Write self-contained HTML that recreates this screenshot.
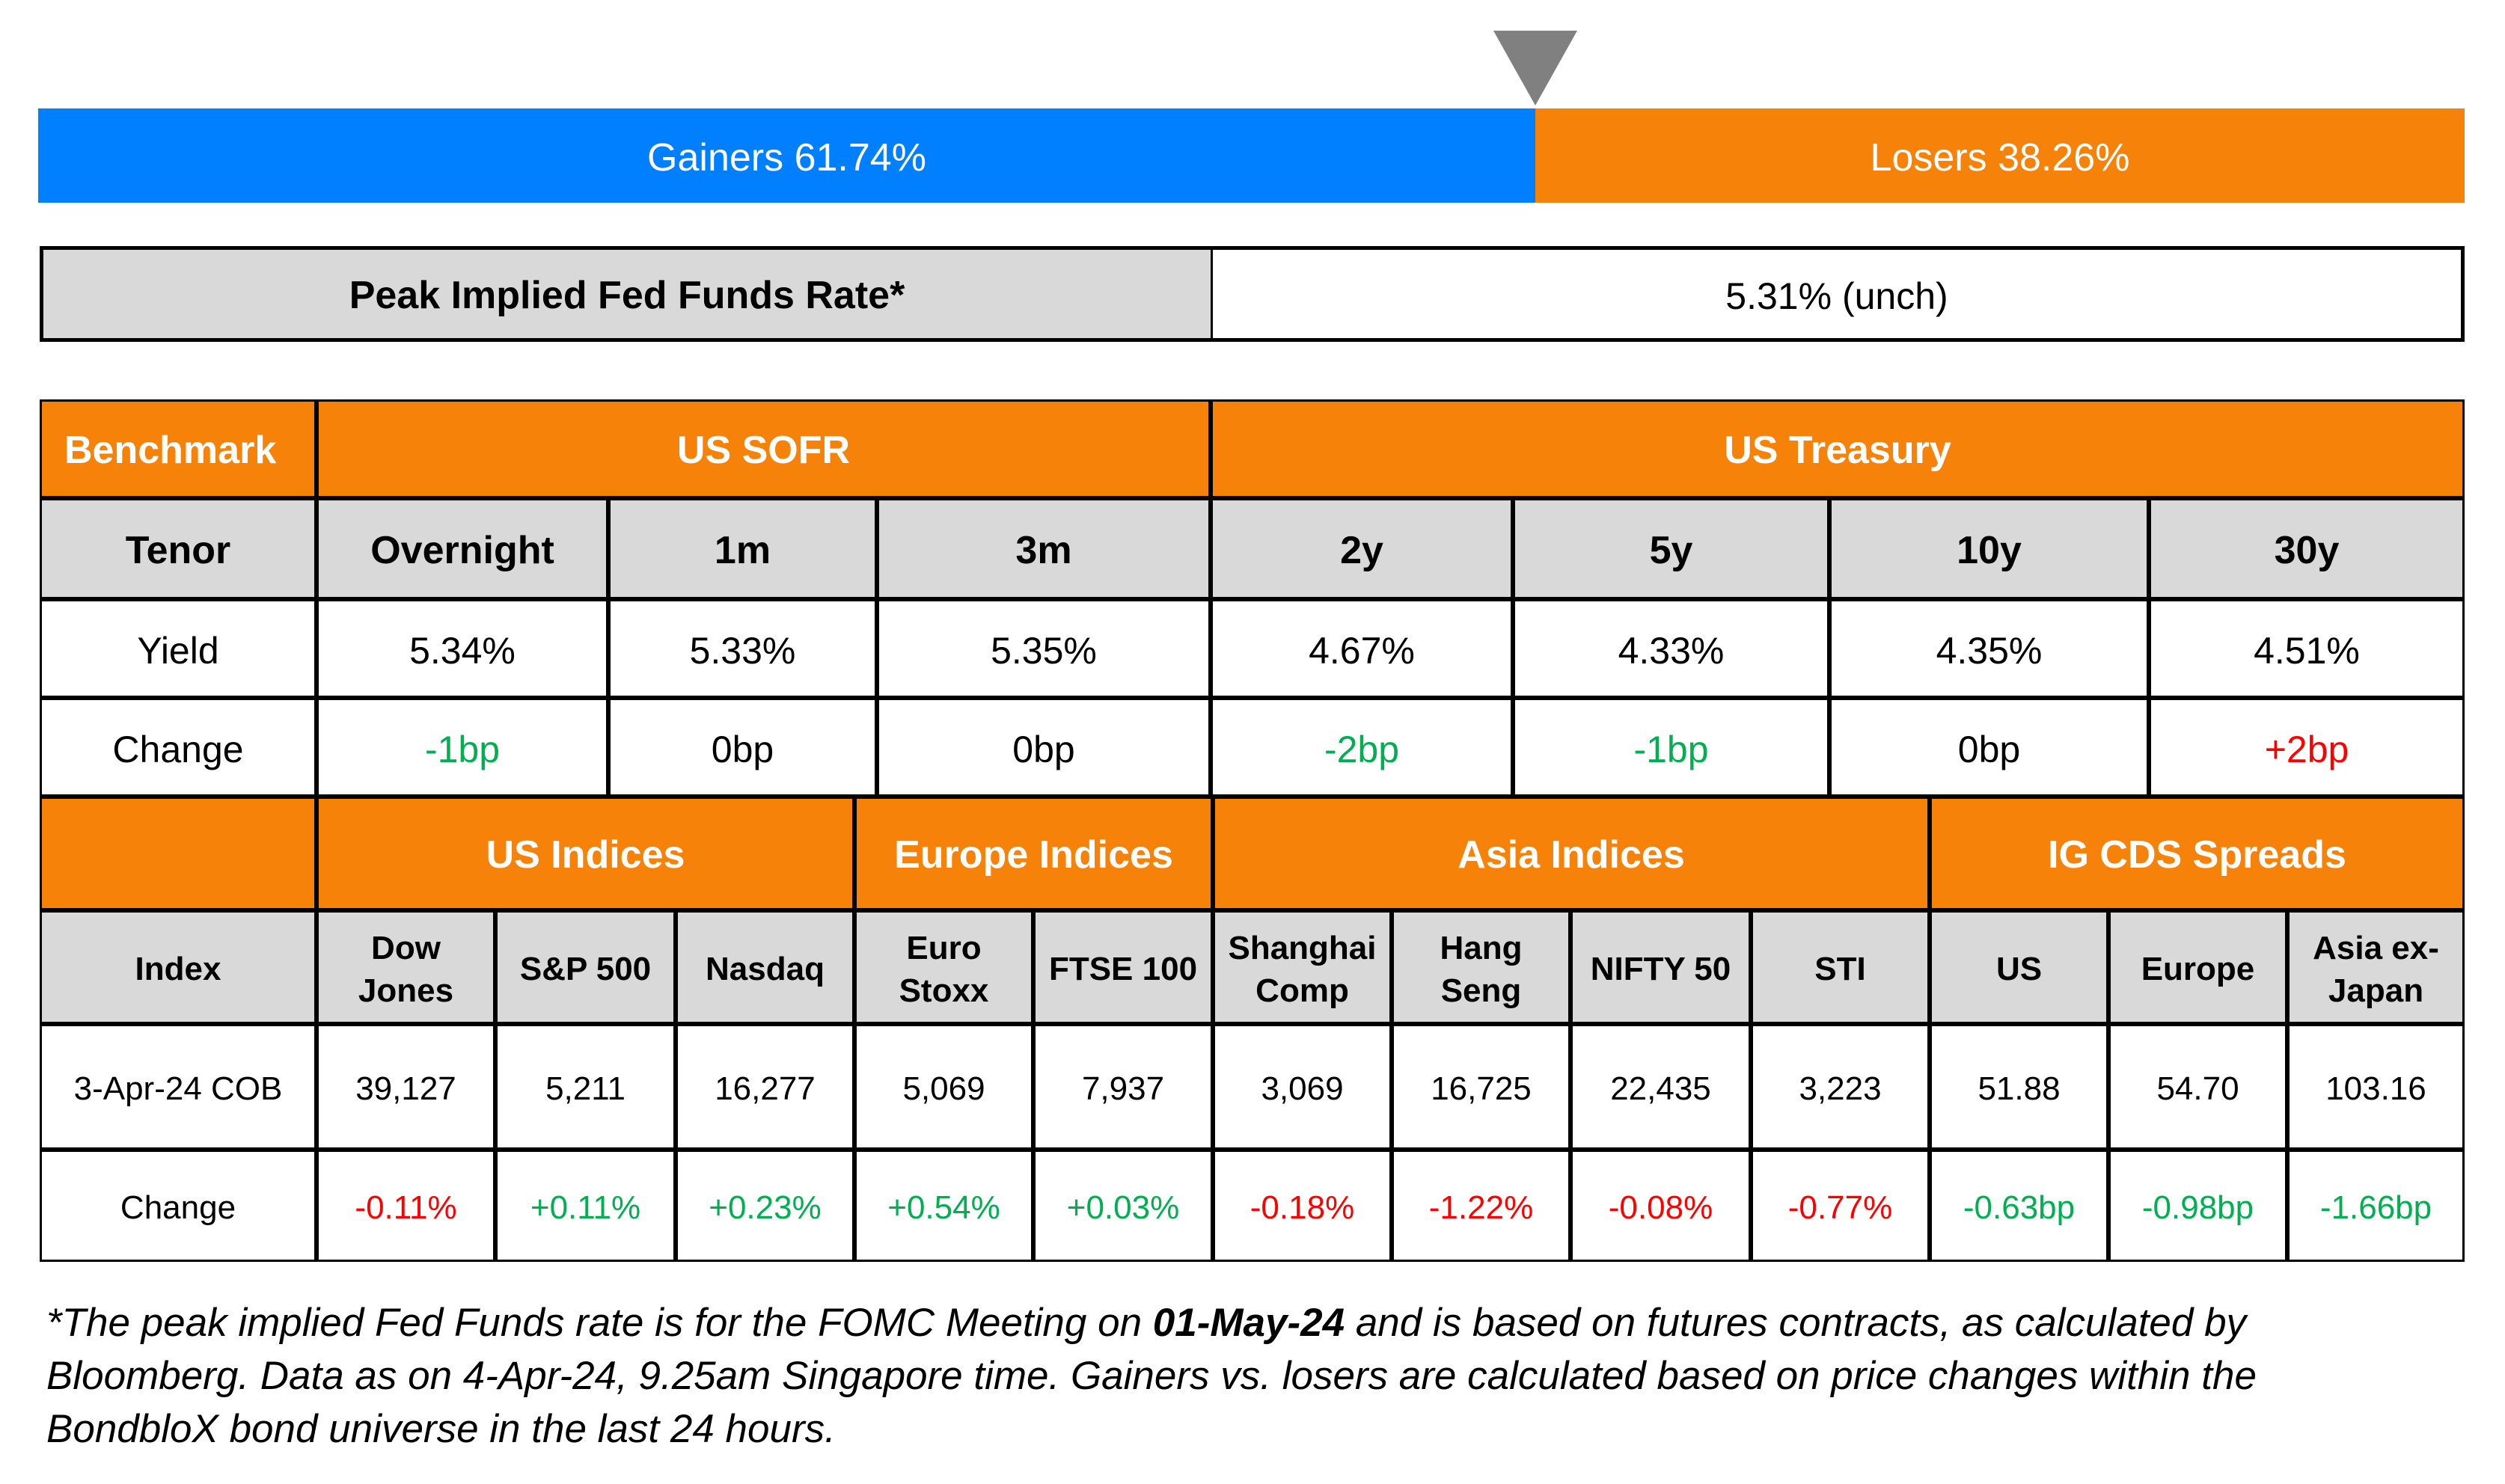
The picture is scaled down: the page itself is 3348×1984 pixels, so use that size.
<!DOCTYPE html>
<html><head><meta charset="utf-8"><style>
body{margin:0;width:3348px;height:1984px;background:#fff;position:relative;overflow:hidden;font-family:"Liberation Sans",sans-serif;}
.c{position:absolute;box-sizing:border-box;border:3px solid #000;display:flex;align-items:center;justify-content:center;text-align:center;line-height:1.3;padding-top:6px;}
.o{background:#F7820A;color:#fff;font-weight:bold;font-size:52px;}
.g{background:#D9D9D9;color:#000;font-weight:bold;font-size:52px;}
.w{background:#fff;color:#000;font-size:50px;}
.g2{background:#D9D9D9;color:#000;font-weight:bold;font-size:44px;}
.w2{background:#fff;color:#000;font-size:44px;}
.gr{color:#00B050}.rd{color:#FF0000}
</style></head><body>
<div style="position:absolute;left:1996px;top:41px;width:0;height:0;border-left:56px solid transparent;border-right:56px solid transparent;border-top:100px solid #808080"></div>
<div style="position:absolute;box-sizing:border-box;padding-top:6px;left:51px;top:145px;width:2001px;height:126px;background:#0080FF;color:#fff;font-size:52px;display:flex;align-items:center;justify-content:center">Gainers 61.74%</div>
<div style="position:absolute;box-sizing:border-box;padding-top:6px;left:2052px;top:145px;width:1242px;height:126px;background:#F7820A;color:#fff;font-size:52px;display:flex;align-items:center;justify-content:center">Losers 38.26%</div>
<div class="c g" style="left:53px;top:329px;width:1568px;height:128px;border-width:5px 3px 5px 5px">Peak Implied Fed Funds Rate*</div>
<div class="c w" style="left:1618px;top:329px;width:1676px;height:128px;border-width:5px 5px 5px 3px">5.31% (unch)</div>

<div class="c o" style="left:53px;top:534px;width:370px;height:132px;justify-content:flex-start;padding-left:30px">Benchmark</div>
<div class="c o" style="left:423px;top:534px;width:1195px;height:132px">US SOFR</div>
<div class="c o" style="left:1618px;top:534px;width:1676px;height:132px">US Treasury</div>

<div class="c g" style="left:53px;top:666px;width:370px;height:135px">Tenor</div>
<div class="c g" style="left:423px;top:666px;width:390px;height:135px">Overnight</div>
<div class="c g" style="left:813px;top:666px;width:359px;height:135px">1m</div>
<div class="c g" style="left:1172px;top:666px;width:446px;height:135px">3m</div>
<div class="c g" style="left:1618px;top:666px;width:404px;height:135px">2y</div>
<div class="c g" style="left:2022px;top:666px;width:423px;height:135px">5y</div>
<div class="c g" style="left:2445px;top:666px;width:427px;height:135px">10y</div>
<div class="c g" style="left:2872px;top:666px;width:422px;height:135px">30y</div>

<div class="c w" style="left:53px;top:801px;width:370px;height:132px">Yield</div>
<div class="c w" style="left:423px;top:801px;width:390px;height:132px">5.34%</div>
<div class="c w" style="left:813px;top:801px;width:359px;height:132px">5.33%</div>
<div class="c w" style="left:1172px;top:801px;width:446px;height:132px">5.35%</div>
<div class="c w" style="left:1618px;top:801px;width:404px;height:132px">4.67%</div>
<div class="c w" style="left:2022px;top:801px;width:423px;height:132px">4.33%</div>
<div class="c w" style="left:2445px;top:801px;width:427px;height:132px">4.35%</div>
<div class="c w" style="left:2872px;top:801px;width:422px;height:132px">4.51%</div>

<div class="c w" style="left:53px;top:933px;width:370px;height:132px">Change</div>
<div class="c w gr" style="left:423px;top:933px;width:390px;height:132px">-1bp</div>
<div class="c w" style="left:813px;top:933px;width:359px;height:132px">0bp</div>
<div class="c w" style="left:1172px;top:933px;width:446px;height:132px">0bp</div>
<div class="c w gr" style="left:1618px;top:933px;width:404px;height:132px">-2bp</div>
<div class="c w gr" style="left:2022px;top:933px;width:423px;height:132px">-1bp</div>
<div class="c w" style="left:2445px;top:933px;width:427px;height:132px">0bp</div>
<div class="c w rd" style="left:2872px;top:933px;width:422px;height:132px">+2bp</div>

<div class="c o" style="left:53px;top:1065px;width:370px;height:152px"></div>
<div class="c o" style="left:423px;top:1065px;width:719px;height:152px">US Indices</div>
<div class="c o" style="left:1142px;top:1065px;width:479px;height:152px">Europe Indices</div>
<div class="c o" style="left:1621px;top:1065px;width:958px;height:152px">Asia Indices</div>
<div class="c o" style="left:2579px;top:1065px;width:715px;height:152px">IG CDS Spreads</div>

<div class="c g2" style="left:53px;top:1217px;width:370px;height:152px">Index</div>
<div class="c g2" style="left:423px;top:1217px;width:239px;height:152px">Dow<br>Jones</div>
<div class="c g2" style="left:662px;top:1217px;width:241px;height:152px">S&amp;P 500</div>
<div class="c g2" style="left:903px;top:1217px;width:239px;height:152px">Nasdaq</div>
<div class="c g2" style="left:1142px;top:1217px;width:239px;height:152px">Euro<br>Stoxx</div>
<div class="c g2" style="left:1381px;top:1217px;width:240px;height:152px">FTSE 100</div>
<div class="c g2" style="left:1621px;top:1217px;width:239px;height:152px">Shanghai<br>Comp</div>
<div class="c g2" style="left:1860px;top:1217px;width:239px;height:152px">Hang<br>Seng</div>
<div class="c g2" style="left:2099px;top:1217px;width:241px;height:152px">NIFTY 50</div>
<div class="c g2" style="left:2340px;top:1217px;width:239px;height:152px">STI</div>
<div class="c g2" style="left:2579px;top:1217px;width:239px;height:152px">US</div>
<div class="c g2" style="left:2818px;top:1217px;width:239px;height:152px">Europe</div>
<div class="c g2" style="left:3057px;top:1217px;width:237px;height:152px">Asia ex-<br>Japan</div>

<div class="c w2" style="left:53px;top:1369px;width:370px;height:168px">3-Apr-24 COB</div>
<div class="c w2" style="left:423px;top:1369px;width:239px;height:168px">39,127</div>
<div class="c w2" style="left:662px;top:1369px;width:241px;height:168px">5,211</div>
<div class="c w2" style="left:903px;top:1369px;width:239px;height:168px">16,277</div>
<div class="c w2" style="left:1142px;top:1369px;width:239px;height:168px">5,069</div>
<div class="c w2" style="left:1381px;top:1369px;width:240px;height:168px">7,937</div>
<div class="c w2" style="left:1621px;top:1369px;width:239px;height:168px">3,069</div>
<div class="c w2" style="left:1860px;top:1369px;width:239px;height:168px">16,725</div>
<div class="c w2" style="left:2099px;top:1369px;width:241px;height:168px">22,435</div>
<div class="c w2" style="left:2340px;top:1369px;width:239px;height:168px">3,223</div>
<div class="c w2" style="left:2579px;top:1369px;width:239px;height:168px">51.88</div>
<div class="c w2" style="left:2818px;top:1369px;width:239px;height:168px">54.70</div>
<div class="c w2" style="left:3057px;top:1369px;width:237px;height:168px">103.16</div>

<div class="c w2" style="left:53px;top:1537px;width:370px;height:150px">Change</div>
<div class="c w2 rd" style="left:423px;top:1537px;width:239px;height:150px">-0.11%</div>
<div class="c w2 gr" style="left:662px;top:1537px;width:241px;height:150px">+0.11%</div>
<div class="c w2 gr" style="left:903px;top:1537px;width:239px;height:150px">+0.23%</div>
<div class="c w2 gr" style="left:1142px;top:1537px;width:239px;height:150px">+0.54%</div>
<div class="c w2 gr" style="left:1381px;top:1537px;width:240px;height:150px">+0.03%</div>
<div class="c w2 rd" style="left:1621px;top:1537px;width:239px;height:150px">-0.18%</div>
<div class="c w2 rd" style="left:1860px;top:1537px;width:239px;height:150px">-1.22%</div>
<div class="c w2 rd" style="left:2099px;top:1537px;width:241px;height:150px">-0.08%</div>
<div class="c w2 rd" style="left:2340px;top:1537px;width:239px;height:150px">-0.77%</div>
<div class="c w2 gr" style="left:2579px;top:1537px;width:239px;height:150px">-0.63bp</div>
<div class="c w2 gr" style="left:2818px;top:1537px;width:239px;height:150px">-0.98bp</div>
<div class="c w2 gr" style="left:3057px;top:1537px;width:237px;height:150px">-1.66bp</div>

<div style="position:absolute;left:62px;top:1733px;width:3290px;font-size:53px;font-style:italic;line-height:71px;color:#000;white-space:nowrap">*The peak implied Fed Funds rate is for the FOMC Meeting on <b>01-May-24</b> and is based on futures contracts, as calculated by<br>Bloomberg. Data as on 4-Apr-24, 9.25am Singapore time. Gainers vs. losers are calculated based on price changes within the<br>BondbloX bond universe in the last 24 hours.</div>
</body></html>
